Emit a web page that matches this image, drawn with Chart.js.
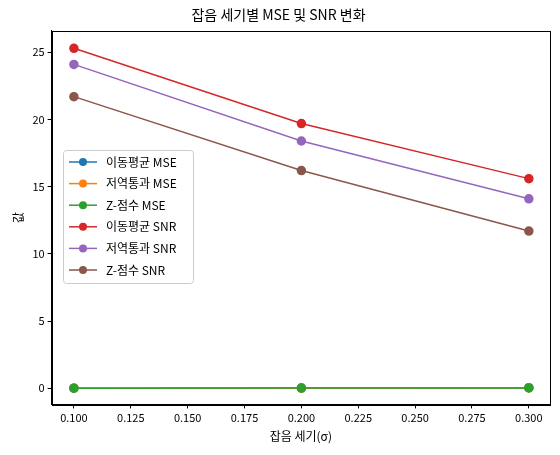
<!DOCTYPE html>
<html><head><meta charset="utf-8">
<script src="https://cdn.jsdelivr.net/npm/chart.js@4"></script>
<style>body{margin:0;background:#fff}#w{width:560px;height:455px}</style>
</head><body><div id="w"><canvas id="c"></canvas></div>
<script>
const noise = [0.1, 0.2, 0.3];
const seriesNames = ['이동평균 MSE','저역통과 MSE','Z-점수 MSE','이동평균 SNR','저역통과 SNR','Z-점수 SNR'];
const maMSE = [0.005, 0.02, 0.045];
const lpMSE = [0.004, 0.017, 0.038];
const zMSE = [0.003, 0.012, 0.028];
const maSNR = [25.3, 19.7, 15.6];
const lpSNR = [24.1, 18.4, 14.1];
const zSNR = [21.7, 16.2, 11.7];
const colors = ['#1f77b4','#ff7f0e','#2ca02c','#d62728','#9467bd','#8c564b'];
const yTicks = [0,5,10,15,20,25];
const xTicks = [0.1,0.125,0.15,0.175,0.2,0.225,0.25,0.275,0.3];
const F = "'Noto Sans CJK KR','Noto Sans',sans-serif";
const all = [maMSE,lpMSE,zMSE,maSNR,lpSNR,zSNR];
const datasets = all.map((arr,i)=>({label:seriesNames[i],order:6-i,data:arr.map((v,j)=>({x:noise[j],y:v})),
  borderColor:colors[i],backgroundColor:colors[i],borderWidth:1.5,pointRadius:4,pointHoverRadius:4}));
const legendPlugin={id:'lg',afterDraw(ch){const c=ch.ctx;const a=ch.chartArea;
 c.save();c.strokeStyle='#000';c.lineWidth=1;c.strokeRect(Math.round(a.left)+0.5,Math.round(a.top)+0.5,Math.round(a.right-a.left),Math.round(a.bottom-a.top));
 const x=63,y=150,w=130,h=133;
 c.fillStyle='rgba(255,255,255,0.8)';c.strokeStyle='#ccc';
 c.beginPath();c.roundRect(x+0.5,y+0.5,w,h,3);c.fill();c.stroke();
 c.font='12px '+F;c.textBaseline='middle';
 seriesNames.forEach((n,i)=>{const yy=y+12+i*21.6;c.strokeStyle=colors[i];c.lineWidth=1.5;
  c.beginPath();c.moveTo(x+6,yy);c.lineTo(x+34,yy);c.stroke();c.fillStyle=colors[i];
  c.beginPath();c.arc(x+20,yy,4,0,Math.PI*2);c.fill();c.fillStyle='#000';c.fillText(n,x+43,yy);});
 c.restore();}};
const grid={drawOnChartArea:false,drawTicks:true,tickLength:4,color:'#000'};
new Chart(document.getElementById('c'),{type:'line',data:{datasets},plugins:[legendPlugin],
 options:{responsive:true,maintainAspectRatio:false,animation:false,
  layout:{padding:{top:0,right:10,left:7,bottom:7}},
  plugins:{legend:{display:false},tooltip:{enabled:false},
   title:{display:true,text:'잡음 세기별 MSE 및 SNR 변화',color:'#000',font:{family:F,size:14,weight:'normal'},padding:{top:6,bottom:8}}},
  scales:{
   x:{type:'linear',min:0.0902,max:0.3093,grid,border:{color:'#000'},
    afterBuildTicks:s=>{s.ticks=xTicks.map(v=>({value:v}))},
    ticks:{color:'#000',font:{family:F,size:11},callback:v=>v.toFixed(3),maxRotation:0},
    title:{display:true,text:'잡음 세기(σ)',color:'#000',font:{family:F,size:12},padding:{top:2}}},
   y:{min:-1.2,max:26.6,grid,border:{color:'#000'},
    afterBuildTicks:s=>{s.ticks=yTicks.map(v=>({value:v}))},
    ticks:{color:'#000',font:{family:F,size:11}},
    title:{display:true,text:'값',color:'#000',font:{family:F,size:12}}}}}});
</script></body></html>
